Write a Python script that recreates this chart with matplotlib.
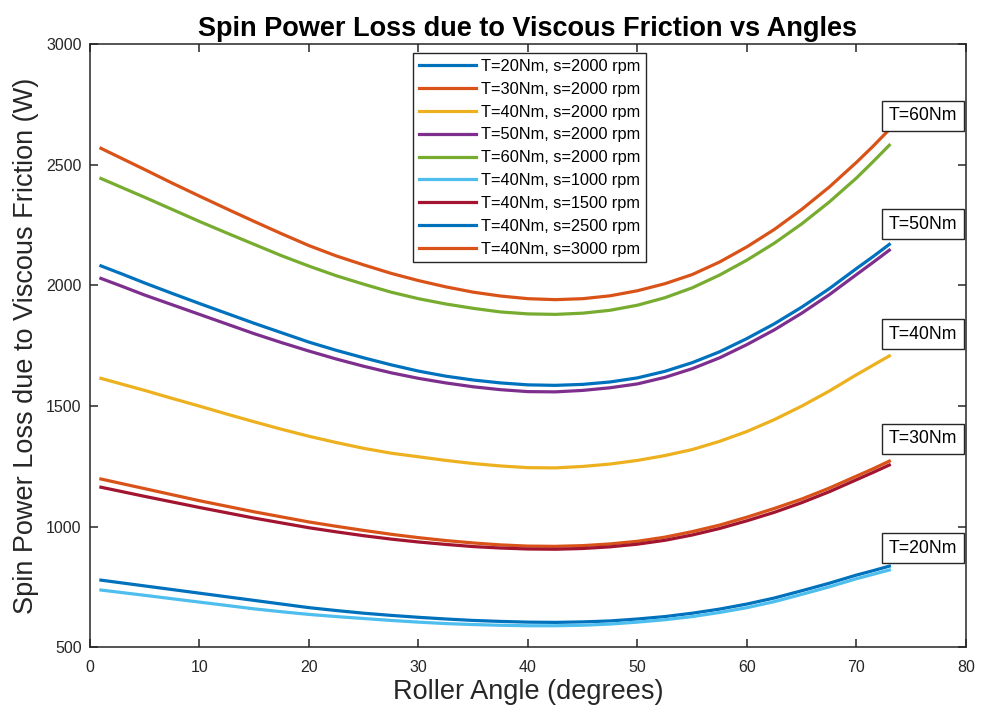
import matplotlib
matplotlib.use("Agg")
import matplotlib.pyplot as plt

plt.rcParams['font.family'] = ['Liberation Sans', 'DejaVu Sans']

angles = [1, 3, 5, 7.5, 10, 12.5, 15, 17.5, 20, 22.5, 25, 27.5, 30, 32.5, 35, 37.5,
          40, 42.5, 45, 47.5, 50, 52.5, 55, 57.5, 60, 62.5, 65, 67.5, 70, 71.5, 73]

t20_s2000 = [779, 767, 755, 740, 725, 710, 695, 680, 665, 653, 642, 633, 625, 618, 612, 608,
             605, 604, 606, 610, 618, 628, 642, 659, 680, 705, 735, 766, 800, 818, 837]
t30_s2000 = [1198, 1178, 1158, 1133, 1108, 1085, 1062, 1041, 1020, 1002, 985, 969, 955, 943, 933, 925,
             920, 919, 922, 929, 940, 957, 980, 1007, 1040, 1076, 1115, 1160, 1210, 1240, 1272]
t40_s2000 = [1615, 1590, 1565, 1532, 1500, 1467, 1435, 1404, 1375, 1349, 1325, 1305, 1290, 1275, 1262, 1252,
             1245, 1244, 1250, 1260, 1275, 1295, 1320, 1354, 1395, 1444, 1500, 1562, 1630, 1669, 1708]
t50_s2000 = [2029, 1995, 1960, 1920, 1880, 1840, 1800, 1763, 1728, 1695, 1665, 1638, 1615, 1596, 1580, 1568,
             1560, 1559, 1565, 1576, 1592, 1619, 1655, 1700, 1755, 1816, 1885, 1961, 2045, 2095, 2146]
t60_s2000 = [2443, 2404, 2365, 2315, 2265, 2217, 2170, 2123, 2080, 2040, 2005, 1972, 1945, 1923, 1905, 1890,
             1882, 1880, 1885, 1897, 1918, 1949, 1990, 2043, 2105, 2175, 2255, 2345, 2445, 2512, 2581]
t40_s1000 = [738, 727, 716, 702, 688, 674, 660, 648, 637, 628, 620, 612, 605, 599, 595, 592,
             590, 590, 592, 597, 605, 615, 628, 645, 665, 690, 720, 751, 785, 803, 821]
t40_s1500 = [1164, 1145, 1126, 1103, 1080, 1058, 1036, 1016, 996, 979, 963, 949, 937, 927, 918, 912,
             908, 907, 910, 917, 928, 944, 966, 993, 1025, 1060, 1100, 1145, 1195, 1225, 1256]
t40_s2500 = [2081, 2046, 2010, 1967, 1925, 1884, 1843, 1804, 1765, 1731, 1700, 1671, 1645, 1624, 1608, 1596,
             1588, 1586, 1590, 1600, 1617, 1644, 1680, 1725, 1780, 1841, 1910, 1986, 2070, 2119, 2170]
t40_s3000 = [2568, 2524, 2480, 2424, 2370, 2317, 2265, 2214, 2165, 2122, 2085, 2050, 2020, 1994, 1972, 1956,
             1945, 1941, 1945, 1957, 1978, 2007, 2045, 2097, 2160, 2232, 2315, 2407, 2510, 2576, 2646]

labels = ["T=20Nm, s=2000 rpm", "T=30Nm, s=2000 rpm", "T=40Nm, s=2000 rpm",
          "T=50Nm, s=2000 rpm", "T=60Nm, s=2000 rpm", "T=40Nm, s=1000 rpm",
          "T=40Nm, s=1500 rpm", "T=40Nm, s=2500 rpm", "T=40Nm, s=3000 rpm"]
series = [t20_s2000, t30_s2000, t40_s2000, t50_s2000, t60_s2000,
          t40_s1000, t40_s1500, t40_s2500, t40_s3000]
colors = ["#0072BD", "#D95319", "#EDB120", "#7E2F8E", "#77AC30",
          "#4DBEEE", "#A2142F", "#0072BD", "#D95319"]

annot_text = ["T=60Nm", "T=50Nm", "T=40Nm", "T=30Nm", "T=20Nm"]
annot_y = [2703, 2254, 1798, 1365, 912]

xticks = [0, 10, 20, 30, 40, 50, 60, 70, 80]
yticks = [500, 1000, 1500, 2000, 2500, 3000]

fig = plt.figure(figsize=(9.81, 7.16), dpi=100)
ax = fig.add_axes([0.0917, 0.0957, 0.8930, 0.8428])

for y, lab, c in zip(series, labels, colors):
    ax.plot(angles, y, color=c, lw=2.3, label=lab, solid_joinstyle='round')

ax.set_xlim(0, 80)
ax.set_ylim(500, 3000)
ax.set_xticks(xticks)
ax.set_yticks(yticks)

axcol = "#262626"
for s in ax.spines.values():
    s.set_color(axcol)
    s.set_linewidth(1.1)
ax.tick_params(direction='in', length=6, width=1.1, top=True, right=True,
               colors=axcol, labelsize=11.5)
ax.tick_params(axis='x', pad=9)
ax.tick_params(axis='y', pad=6)

ax.set_xlabel("Roller Angle (degrees)", fontsize=19.5, color=axcol, labelpad=3)
ax.set_ylabel("Spin Power Loss due to Viscous Friction (W)", fontsize=19.5,
              color=axcol, labelpad=5)
ax.set_title("Spin Power Loss due to Viscous Friction vs Angles",
             fontsize=19.5, fontweight='bold', pad=6)

for t, yv in zip(annot_text, annot_y):
    ax.text(72.95, yv, t, fontsize=12.7, ha='left', va='center', color='black',
            bbox=dict(boxstyle='square,pad=0.36', fc='white', ec=axcol, lw=1.0))

leg = ax.legend(loc='upper center', bbox_to_anchor=(0.502, 0.985),
                fontsize=11.8, frameon=True, fancybox=False,
                handlelength=3.5, handletextpad=0.3, labelspacing=0.48,
                borderpad=0.35, borderaxespad=0)
leg.get_frame().set_edgecolor(axcol)
leg.get_frame().set_linewidth(1.0)
leg.get_frame().set_alpha(1)

fig.savefig("out.png", dpi=100)
